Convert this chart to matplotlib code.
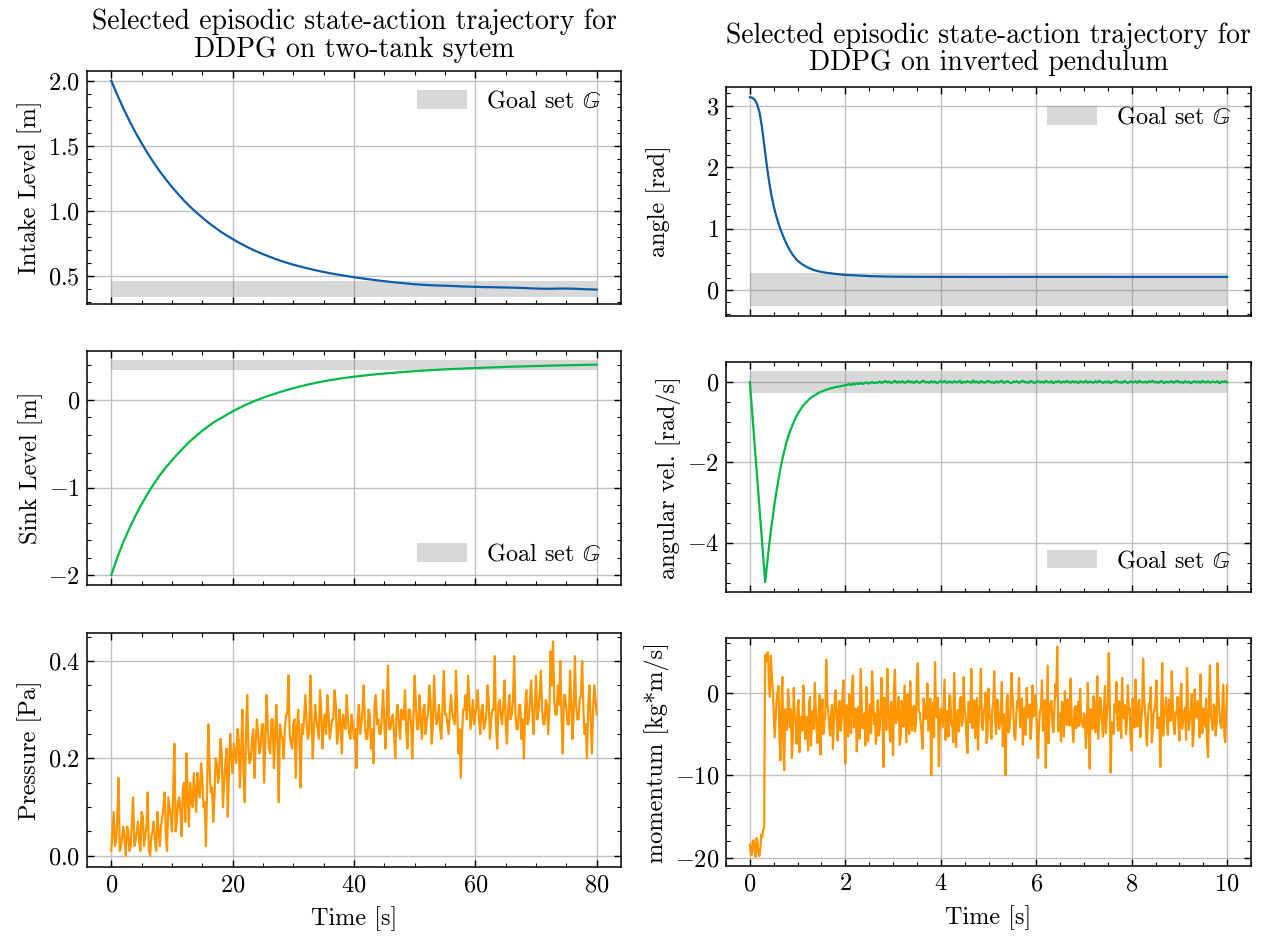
import numpy as np
import matplotlib
matplotlib.use("Agg")
import matplotlib.pyplot as plt
from matplotlib.ticker import MultipleLocator, AutoMinorLocator

# ---------------- data ----------------
# Two-tank system
tank_t = [0, 1, 2, 3, 4, 5, 6, 7, 8, 9, 10, 11, 12, 13, 14, 15, 16, 17, 18, 19, 20,
          21, 22, 23, 24, 25, 26, 27, 28, 29, 30,
          32, 34, 36, 38, 40, 42, 44, 46, 48, 50, 52, 54, 56, 58, 60, 62, 64, 66, 68, 70,
          72, 74, 76, 78, 80]
intake_level = [2.000, 1.890, 1.787, 1.691, 1.602, 1.520, 1.442, 1.371, 1.304, 1.242, 1.184,
                1.130, 1.079, 1.032, 0.989, 0.949, 0.910, 0.876, 0.842, 0.812, 0.784,
                0.757, 0.733, 0.709, 0.688, 0.668, 0.650, 0.632, 0.616, 0.601, 0.587,
                0.563, 0.541, 0.522, 0.506, 0.491, 0.478, 0.466, 0.455, 0.446, 0.437,
                0.431, 0.427, 0.424, 0.420, 0.417, 0.415, 0.413, 0.411, 0.408, 0.404,
                0.402, 0.404, 0.403, 0.399, 0.396]
sink_level = [-2.00, -1.80, -1.62, -1.465, -1.32, -1.19, -1.07, -0.96, -0.86, -0.77, -0.69,
              -0.61, -0.54, -0.47, -0.41, -0.35, -0.30, -0.25, -0.21, -0.17, -0.13,
              -0.095, -0.06, -0.03, 0.00, 0.025, 0.05, 0.072, 0.095, 0.115, 0.135,
              0.170, 0.200, 0.226, 0.248, 0.266, 0.282, 0.296, 0.308, 0.319, 0.329,
              0.338, 0.346, 0.353, 0.359, 0.365, 0.370, 0.375, 0.380, 0.384, 0.388,
              0.392, 0.395, 0.398, 0.401, 0.404]
# Pressure action: samples at 0, 0.4, ..., 80 s
pressure_a = [0.01, 0.09, 0.03, 0.16, 0.02, 0.06, 0.00, 0.05, 0.02, 0.12, 0.03, 0.07, 0.01, 0.08, 0.04, 0.13, 0.00, 0.05, 0.03, 0.09, 0.02,
              0.08, 0.13, 0.01, 0.10, 0.05, 0.23, 0.07, 0.12, 0.04, 0.15, 0.21, 0.06, 0.11, 0.17, 0.09, 0.14, 0.19, 0.10, 0.02, 0.27,
              0.13, 0.07, 0.20, 0.15, 0.24, 0.10, 0.19, 0.08, 0.25, 0.17, 0.21, 0.26, 0.14, 0.30, 0.11, 0.33, 0.19, 0.24, 0.16, 0.28,
              0.21, 0.27, 0.15, 0.33, 0.22, 0.28, 0.18, 0.31, 0.11, 0.25, 0.20, 0.29, 0.37, 0.23, 0.27, 0.16, 0.30, 0.14, 0.25, 0.33,
              0.24, 0.37, 0.20, 0.31, 0.26, 0.34, 0.22, 0.29, 0.33, 0.24, 0.28, 0.34, 0.23, 0.30, 0.21, 0.27, 0.33, 0.25, 0.29, 0.24,
              0.18, 0.31, 0.27, 0.35, 0.24, 0.30, 0.22, 0.19, 0.33, 0.28, 0.25, 0.34, 0.22, 0.39, 0.26, 0.29, 0.20, 0.31, 0.24, 0.28,
              0.34, 0.22, 0.30, 0.20, 0.37, 0.26, 0.33, 0.24, 0.31, 0.28, 0.35, 0.23, 0.37, 0.27, 0.31, 0.24, 0.38, 0.29, 0.25, 0.33,
              0.28, 0.38, 0.21, 0.16, 0.30, 0.33, 0.37, 0.26, 0.32, 0.29, 0.34, 0.25, 0.31, 0.27, 0.35, 0.24, 0.30, 0.41, 0.22, 0.32,
              0.27, 0.36, 0.23, 0.33, 0.29, 0.41, 0.26, 0.31, 0.24, 0.20, 0.34, 0.28, 0.36, 0.25, 0.37, 0.30, 0.38, 0.27, 0.32, 0.25,
              0.42, 0.44, 0.29, 0.35, 0.40, 0.21, 0.33, 0.27, 0.38, 0.24, 0.41, 0.28, 0.32, 0.40, 0.25, 0.20, 0.35, 0.21, 0.35, 0.29]
# Pressure action: samples at 0.2, 0.6, ..., 79.8 s
pressure_b = [0.05, 0.02, 0.08, 0.01, 0.04, 0.03, 0.06, 0.01, 0.07, 0.02, 0.05, 0.03, 0.09, 0.02, 0.06, 0.01, 0.04, 0.07, 0.01, 0.05,
              0.06, 0.10, 0.04, 0.12, 0.08, 0.13, 0.05, 0.11, 0.09, 0.14, 0.07, 0.12, 0.15, 0.10, 0.13, 0.17, 0.12, 0.16, 0.11, 0.14,
              0.18, 0.14, 0.12, 0.19, 0.17, 0.21, 0.15, 0.22, 0.18, 0.20, 0.23, 0.19, 0.24, 0.21, 0.17, 0.25, 0.22, 0.20, 0.26, 0.23,
              0.25, 0.22, 0.27, 0.24, 0.26, 0.21, 0.28, 0.25, 0.23, 0.27, 0.24, 0.26, 0.29, 0.25, 0.22, 0.28, 0.26, 0.24, 0.27, 0.29,
              0.27, 0.25, 0.29, 0.26, 0.28, 0.24, 0.30, 0.27, 0.25, 0.29, 0.26, 0.28, 0.31, 0.25, 0.27, 0.29, 0.26, 0.28, 0.24, 0.27,
              0.26, 0.28, 0.25, 0.30, 0.27, 0.24, 0.29, 0.26, 0.31, 0.27, 0.25, 0.29, 0.27, 0.30, 0.26, 0.28, 0.25, 0.29, 0.27, 0.30,
              0.28, 0.26, 0.30, 0.27, 0.29, 0.31, 0.26, 0.28, 0.30, 0.25, 0.29, 0.32, 0.27, 0.30, 0.28, 0.26, 0.31, 0.29, 0.27, 0.30,
              0.29, 0.27, 0.31, 0.26, 0.25, 0.30, 0.28, 0.32, 0.29, 0.27, 0.31, 0.28, 0.30, 0.26, 0.29, 0.32, 0.28, 0.30, 0.27, 0.31,
              0.29, 0.31, 0.27, 0.30, 0.28, 0.32, 0.29, 0.26, 0.31, 0.28, 0.30, 0.27, 0.32, 0.29, 0.31, 0.28, 0.33, 0.30, 0.27, 0.31,
              0.30, 0.35, 0.32, 0.29, 0.31, 0.28, 0.33, 0.30, 0.27, 0.32, 0.29, 0.31, 0.28, 0.33, 0.30, 0.27, 0.31, 0.28, 0.30, 0.32]
tank_goal = [0.34, 0.46]

# Inverted pendulum (0..10 s)
angle_t = [0.0, 0.05, 0.10, 0.15, 0.20, 0.25, 0.30, 0.35, 0.40, 0.45, 0.50, 0.55, 0.60, 0.65,
           0.70, 0.75, 0.80, 0.85, 0.90, 0.95, 1.00, 1.10, 1.20, 1.30, 1.40, 1.50, 1.60, 1.80,
           2.00, 2.50, 3.00, 4.00, 5.00, 6.00, 7.00, 8.00, 9.00, 10.0]
angle = [3.14, 3.13, 3.10, 3.03, 2.90, 2.67, 2.37, 2.06, 1.78, 1.55, 1.36, 1.21, 1.08, 0.97,
         0.87, 0.78, 0.70, 0.63, 0.57, 0.52, 0.475, 0.415, 0.37, 0.335, 0.31, 0.293, 0.28, 0.26,
         0.245, 0.225, 0.215, 0.212, 0.211, 0.212, 0.212, 0.211, 0.211, 0.211]
# angular velocity, every 0.04 s
angular_vel = [0.0, -0.62, -1.24, -1.86, -2.48, -3.10, -3.73, -4.35, -4.97,
               -4.55, -4.10, -3.70, -3.35, -3.00, -2.70, -2.42, -2.15, -1.92, -1.72, -1.53, -1.37,
               -1.23, -1.11, -0.99, -0.89, -0.80, -0.72, -0.65, -0.58, -0.53, -0.48, -0.43, -0.39,
               -0.36, -0.33, -0.30, -0.27, -0.25, -0.23, -0.21, -0.19, -0.18, -0.16, -0.15, -0.14,
               -0.12, -0.12, -0.11, -0.10, -0.09, -0.08,
               -0.07, -0.05, -0.08, -0.04, -0.06, -0.03, -0.05, -0.02, -0.05, -0.03,
               -0.01, -0.04, -0.02, 0.00, -0.03, -0.01, -0.02, 0.01, -0.02, 0.00,
               0.02, -0.01, 0.01, -0.03, 0.00, 0.03, -0.02, 0.01, -0.01, 0.02,
               -0.02, 0.00, 0.03, -0.01, 0.01, -0.03, 0.02, 0.00, -0.02, 0.01,
               0.03, -0.01, 0.00, -0.02, 0.02, -0.01, 0.01, -0.03, 0.00, 0.02,
               -0.01, 0.03, -0.02, 0.00, 0.01, -0.02, 0.02, -0.01, 0.00, 0.03,
               -0.03, 0.01, -0.01, 0.02, 0.00, -0.02, 0.04, -0.01, 0.01, -0.03,
               0.02, 0.00, -0.02, 0.01, 0.03, -0.01, 0.00, -0.03, 0.02, -0.01,
               0.01, 0.03, -0.02, 0.00, 0.02, -0.01, -0.03, 0.01, 0.00, 0.02,
               -0.02, 0.01, 0.03, -0.01, 0.00, -0.02, 0.02, 0.01, -0.03, 0.00,
               0.02, -0.01, 0.01, -0.02, 0.03, 0.00, -0.01, 0.02, -0.03, 0.01,
               0.00, 0.02, -0.02, 0.01, -0.01, 0.03, 0.00, -0.02, 0.02, -0.01,
               0.01, -0.03, 0.02, 0.00, -0.01, 0.03, -0.02, 0.01, 0.00, -0.02,
               0.02, -0.01, 0.03, 0.00, -0.02, 0.01, -0.01, 0.02, -0.03, 0.00,
               0.01, 0.03, -0.01, 0.00, -0.02, 0.02, 0.01, -0.03, 0.01, 0.00,
               -0.01, 0.02, -0.02, 0.03, 0.00, -0.01, 0.01, -0.02, 0.02, 0.00,
               0.03, -0.01, 0.00, -0.02, 0.01, 0.02, -0.03, 0.01, -0.01, 0.00,
               0.02, -0.02, 0.01, 0.03, -0.01, 0.00, -0.02, 0.02, -0.01, 0.01,
               -0.03, 0.00, 0.02, -0.01, 0.01, -0.02, 0.03, 0.00, -0.01, 0.02,
               -0.02, 0.01, 0.00, -0.01, 0.02, -0.03, 0.01, 0.00, 0.02, -0.01]
# momentum action: samples at 0, 0.04, ..., 10 s
momentum_a = [-18.4, -19.7, -17.9, -19.9, -18.1, -19.8, -17.2, -16.6,
              4.6, 4.8, 1.2, 4.5, 0.5, -5.4, -1.0, 0.8, -8.2, 1.9, -9.4, -3.0, 0.4,
              -4.2, -7.9, 0.6, -3.5, -1.8, -7.2, -2.9, 0.9, -5.6, -3.1, -1.2, -6.4, -2.2, 1.2, -4.7, -2.6, -7.5, -0.8, -3.9, 4.0, -2.1, -5.2, -1.5, -3.4, 0.3,
              -5.8, -1.0, -3.6, 1.5, -8.6, -2.4, -0.2, -4.9, 2.1, -3.0, -7.1, -1.7, 2.9, -4.3, -2.5, 0.7, -5.9, -1.4, 2.6, -3.8, -6.2, -0.9, -4.5, 1.8, -9.0,
              -2.3, 2.9, -4.1, -1.1, -7.6, 2.8, -3.3, -0.5, -5.5, -2.0, 0.9, -6.0, -2.8, 1.4, -4.6, -1.6, -3.7, 3.6, -2.4, -5.0, -0.7, -3.2, 1.1, -4.4, -10.0,
              -1.2, 3.7, -3.0, -8.9, -1.9, -4.2, 1.6, -2.7, -5.3, -0.4, -3.5, 2.4, -6.6, -2.1, -0.9, -4.0, 1.9, -2.9, -7.3, -1.3, 2.9, -3.6, -5.5, -0.6, -2.4,
              2.9, -4.5, -1.7, -6.1, 0.5, -3.3, -2.0, 2.6, -5.0, -1.1, -3.9, 1.3, -2.6, -10.0, -0.3, -4.4, 2.4, -2.2, -5.7, -1.0, 1.8, -3.5, -6.3, -1.8, 0.6,
              -3.0, -5.6, 0.9, -2.7, -1.3, -7.9, -2.1, 1.5, -4.2, -9.1, 3.3, -2.5, -1.0, -4.8, 1.0, 5.6, -3.4, -5.9, -1.6, 0.2, -3.9, -2.2, 1.7, -4.4, -2.0,
              -4.3, -1.1, 0.5, -3.6, -2.5, -6.7, 1.2, -9.2, -2.9, -0.4, -4.8, 2.0, -3.2, -1.5, -5.3, 0.8, -2.7, 4.8, -9.7, -3.9, -1.4, 1.3, -4.6, -2.3, 1.8,
              -3.1, -5.0, 0.9, -1.9, -7.0, -2.6, 1.6, -4.1, -0.8, -3.4, 4.1, -2.2, -6.4, -1.3, 0.7, -4.7, -2.0, 1.5, -3.6, -9.0, 3.6, -2.8, -0.6, -5.1, -1.7,
              2.6, -4.0, -2.4, -0.5, -5.8, 1.1, -3.3, -1.8, 3.0, -4.5, -2.1, -6.5, 0.4, -3.0, -1.2, 2.2, -4.9, -2.6, -0.7, -7.8, 3.3, -3.5, -1.4, -5.2, 3.6,
              -2.5, -4.3, 1.0, -6.0, 0.9]
# momentum action: samples at 0.02, 0.06, ..., 9.98 s
momentum_b = [-19.5, -18.0, -19.2, -17.6, -19.5, -18.8, -17.5, -16.3,
              3.8, 4.9, -0.5, 2.0, -2.3, -3.1, 0.1, -5.2, -1.5, -6.0, -2.0, -4.5, -1.2,
              -2.0, -5.1, -3.0, -6.2, -0.9, -3.8, -4.6, -1.6, -2.9, -7.0, -0.5, -3.6, -4.4, -1.9, -6.1, -0.3, -3.2, -5.0, -2.4, -1.1, -4.0, -2.7, -6.8, -0.6, -3.5,
              -2.2, -4.6, -0.4, -3.9, -1.5, -5.3, -2.8, 1.0, -4.2, -1.9, -3.4, -5.6, -0.8, -2.6, -6.4, -1.3, -3.7, -4.9, 0.2, -2.5, -3.9, -5.2, -1.7, -3.0, -0.6,
              -4.5, -1.4, -5.9, -2.9, 0.4, -3.7, -2.1, -6.3, -1.0, -4.1, -2.7, -0.2, -5.0, -3.2, -1.8, -4.7, 1.7, -2.3, -3.8, -6.8, -1.6, -2.9, -4.6, -0.7, -3.3,
              -5.4, -2.5, -0.6, -4.0, -3.1, -1.4, -5.7, -2.2, -0.3, -3.9, -6.0, -1.8, -2.9, -4.7, -0.5, -3.4, -2.0, -5.8, -1.1, -3.6, -4.3, -0.9, -2.7, -6.9, -1.5,
              -3.9, -2.3, 0.0, -4.9, -2.6, -5.6, -1.2, -3.3, -0.8, -4.4, -2.1, -6.5, -3.5, -1.0, -4.8, -2.4, -0.1, -5.2, -3.0, -1.7, -4.2, -0.7, -2.8, -5.1, -2.0,
              -1.4, -4.1, -2.9, -0.3, -5.5, -3.7, -1.9, -4.6, -0.9, -2.6, -6.1, -1.3, -3.8, -2.2, -0.4, -4.7, -2.5, -1.1, -5.3, -3.2, -0.8, -4.0, -2.7, -6.0, -1.6,
              -2.6, -4.0, -3.3, -4.2, -2.9, -4.5, -3.1, -2.0, -4.4, -1.2, -3.0, -5.6, -0.6, -3.8, -2.2, -4.9, -1.4, -0.5, -3.6, -5.0, -2.3, -3.9, -1.0, -5.5, -2.8,
              -1.5, -3.7, -2.4, -5.9, -0.7, -4.2, -2.9, -1.3, -5.4, -2.0, -0.4, -4.6, -3.2, -1.8, -6.0, -2.5, -0.9, -4.3, -3.0, -1.6, -5.2, -2.1, -4.0, -0.8, -3.4,
              -1.2, -5.0, -2.7, -3.9, -0.6, -4.4, -2.3, -5.7, -1.5, -3.1, -0.2, -4.8, -2.6, -1.0, -5.4, -3.3, -1.9, -4.1, -6.2, -0.9, -2.8, -4.5, -1.7, -3.6, -0.5,
              -3.8, -1.6, -5.0, -2.4]
pend_goal = [-0.27, 0.27]

tank_end, pend_end = 80.0, 10.0

def interleave(a, b):
    out = []
    for i, v in enumerate(a):
        out.append(v)
        if i < len(b):
            out.append(b[i])
    return out

pressure = interleave(pressure_a, pressure_b)
pressure_t = np.linspace(0, tank_end, len(pressure))
angvel_t = np.linspace(0, pend_end, len(angular_vel))
momentum = interleave(momentum_a, momentum_b)
momentum_t = np.linspace(0, pend_end, len(momentum))

# ---------------- style ----------------
plt.rcParams.update({
    "font.family": "serif",
    "font.serif": ["cmr10"],
    "mathtext.fontset": "cm",
    "axes.formatter.use_mathtext": True,
    "axes.unicode_minus": True,
    "font.size": 17.5,
    "axes.linewidth": 1.1,
    "xtick.direction": "in", "ytick.direction": "in",
    "xtick.top": True, "ytick.right": True,
    "xtick.major.size": 5.0, "ytick.major.size": 5.0,
    "xtick.minor.size": 2.8, "ytick.minor.size": 2.8,
    "xtick.major.width": 1.0, "ytick.major.width": 1.0,
    "xtick.minor.width": 0.8, "ytick.minor.width": 0.8,
    "xtick.major.pad": 5, "ytick.major.pad": 5,
    "xtick.minor.visible": True, "ytick.minor.visible": True,
    "axes.grid": True, "grid.color": "#c0c0c0", "grid.linewidth": 1.0,
    "legend.frameon": False,
})

BLUE, GREEN, ORANGE = "#0C5DA5", "#00B945", "#FF9500"

W, H = 1262, 936
fig = plt.figure(figsize=(W / 100, H / 100), dpi=100)

def px_axes(x0, x1, y0, y1):
    return fig.add_axes([x0 / W, 1 - y1 / H, (x1 - x0) / W, (y1 - y0) / H])

L = [px_axes(87, 621, 70.7, 304.3), px_axes(87, 621, 350.7, 585.3), px_axes(87, 621, 632.7, 867)]
R = [px_axes(726, 1251, 86.7, 315.7), px_axes(726, 1251, 362.3, 592), px_axes(726, 1251, 638.3, 866)]

def band(ax, t, lim):
    ax.fill_between([t[0], t[-1]], lim[0], lim[1], color="gray", alpha=0.3, lw=0,
                    label=r"Goal set $\mathbb{G}$", zorder=1)

LEG = dict(handlelength=2.05, handleheight=0.8, borderaxespad=0.4)
lw = 1.6
TITLE_FS = 20
# Left column
ax = L[0]
band(ax, tank_t, tank_goal)
ax.plot(tank_t, intake_level, color=BLUE, lw=lw, zorder=3)
ax.set_ylabel("Intake Level [m]")
ax.yaxis.set_major_locator(MultipleLocator(0.5))
ax.set_title("Selected episodic state-action trajectory for\nDDPG on two-tank sytem",
             fontsize=TITLE_FS, linespacing=1.05, pad=10)
ax.legend(loc="upper right", **LEG)

ax = L[1]
band(ax, tank_t, tank_goal)
ax.plot(tank_t, sink_level, color=GREEN, lw=lw, zorder=3)
ax.set_ylabel("Sink Level [m]")
ax.yaxis.set_major_locator(MultipleLocator(1))
ax.legend(loc="lower right", **LEG)

ax = L[2]
ax.plot(pressure_t, pressure, color=ORANGE, lw=lw, zorder=3)
ax.set_ylabel("Pressure [Pa]")
ax.set_xlabel("Time [s]", labelpad=7)
ax.yaxis.set_major_locator(MultipleLocator(0.2))

for a in L:
    a.set_xlim(-4, 84)
    a.xaxis.set_major_locator(MultipleLocator(20))
    a.set_axisbelow(True)
for a in L[:2]:
    a.tick_params(labelbottom=False)
L[0].set_ylim(0.283, 2.077)
L[1].set_ylim(-2.117, 0.563)
L[2].set_ylim(-0.023, 0.458)

# Right column
ax = R[0]
band(ax, angle_t, pend_goal)
ax.plot(angle_t, angle, color=BLUE, lw=lw, zorder=3)
ax.set_ylabel("angle [rad]", labelpad=25)
ax.yaxis.set_major_locator(MultipleLocator(1))
ax.set_title("Selected episodic state-action trajectory for\nDDPG on inverted pendulum",
             fontsize=TITLE_FS, linespacing=1.05, pad=12)
ax.legend(loc="upper right", **LEG)

ax = R[1]
band(ax, angvel_t, pend_goal)
ax.plot(angvel_t, angular_vel, color=GREEN, lw=lw, zorder=3)
ax.set_ylabel("angular vel. [rad/s]")
ax.yaxis.set_major_locator(MultipleLocator(2))
ax.legend(loc="lower right", **LEG)

ax = R[2]
ax.plot(momentum_t, momentum, color=ORANGE, lw=lw, zorder=3)
ax.set_ylabel("momentum [kg*m/s]")
ax.set_xlabel("Time [s]", labelpad=7)
ax.yaxis.set_major_locator(MultipleLocator(10))

for a in R:
    a.set_xlim(-0.5, 10.5)
    a.xaxis.set_major_locator(MultipleLocator(2))
    a.set_axisbelow(True)
for a in R[:2]:
    a.tick_params(labelbottom=False)
R[0].set_ylim(-0.42, 3.31)
R[1].set_ylim(-5.22, 0.49)
R[2].set_ylim(-21.0, 6.6)

for a in L + R:
    a.xaxis.set_minor_locator(AutoMinorLocator())
    a.yaxis.set_minor_locator(AutoMinorLocator())

fig.savefig("out.png", dpi=100)
